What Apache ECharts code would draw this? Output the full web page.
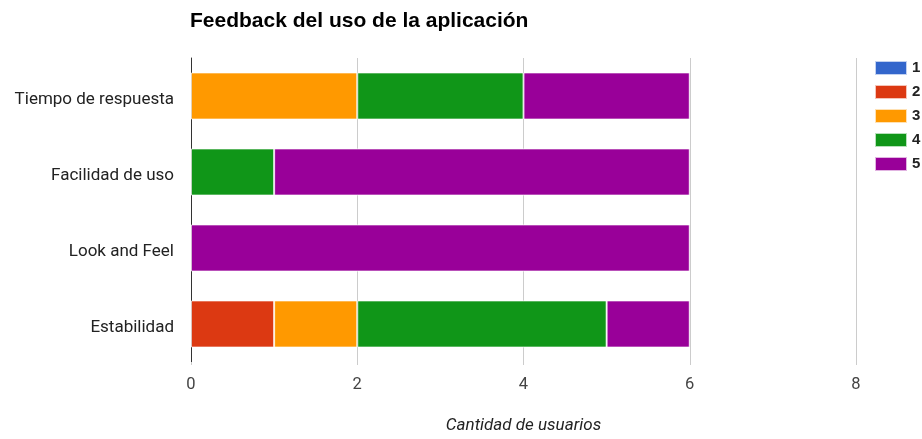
<!DOCTYPE html>
<html>
<head>
<meta charset="utf-8">
<script src="https://cdn.jsdelivr.net/npm/echarts@6/dist/echarts.min.js"></script>
<style>
html,body{margin:0;padding:0;background:#fff;}
#chart{width:922px;height:439px;}
</style>
</head>
<body>
<div id="chart"></div>
<script>
// Survey results: number of users giving each rating (1-5) per aspect
const categories = ['Tiempo de respuesta', 'Facilidad de uso', 'Look and Feel', 'Estabilidad'];
const seriesNames = ['1', '2', '3', '4', '5'];
const rating1 = [0, 0, 0, 0];
const rating2 = [0, 0, 0, 1];
const rating3 = [2, 0, 0, 1];
const rating4 = [2, 1, 0, 3];
const rating5 = [2, 5, 6, 1];
const xTicks = [0, 2, 4, 6, 8];
const colors = ['#3366cc', '#dc3912', '#ff9900', '#109618', '#990099'];

const values = [rating1, rating2, rating3, rating4, rating5];

const chart = echarts.init(document.getElementById('chart'), null, {renderer: 'canvas'});
chart.setOption({
  animation: false,
  color: colors,
  title: {
    text: 'Feedback del uso de la aplicación',
    left: 185,
    top: 6,
    textStyle: {fontFamily: 'Liberation Sans, Arial', fontSize: 21, fontWeight: 'bold', color: '#000'}
  },
  legend: {
    orient: 'vertical',
    left: 869,
    top: 55,
    itemWidth: 32,
    itemHeight: 14,
    itemGap: 8,
    icon: 'rect',
    data: seriesNames,
    textStyle: {fontFamily: 'Liberation Sans, Arial', fontSize: 15, fontWeight: 'bold', color: '#222'}
  },
  grid: {left: 191, right: 66, top: 58, bottom: 77, containLabel: false},
  xAxis: {
    type: 'value',
    min: xTicks[0],
    max: xTicks[xTicks.length - 1],
    interval: 2,
    name: 'Cantidad de usuarios',
    nameLocation: 'middle',
    nameGap: 55,
    nameTextStyle: {fontFamily: 'Roboto, Arial', fontSize: 17, fontStyle: 'italic', color: '#222'},
    axisLine: {show: false},
    axisTick: {show: true, length: 3, lineStyle: {color: '#ccc'}},
    axisLabel: {fontFamily: 'Roboto, Arial', fontSize: 16.5, color: '#444', margin: 14},
    splitLine: {show: true, lineStyle: {color: '#ccc', width: 1}}
  },
  yAxis: {
    type: 'category',
    data: categories,
    inverse: true,
    axisLine: {show: true, lineStyle: {color: '#333', width: 1}},
    axisTick: {show: false},
    axisLabel: {
      margin: 17,
      formatter: v => '{t|' + v + '}',
      rich: {t: {fontFamily: 'Roboto, Arial', fontSize: 17, color: '#222', padding: [8, 0, 0, 0]}}
    },
    splitLine: {show: false}
  },
  series: seriesNames.map((name, i) => ({
    name: name,
    type: 'bar',
    stack: 'total',
    barCategoryGap: '38%',
    data: values[i].map(v => (v === 0 ? '-' : v)),
    itemStyle: {color: colors[i], borderColor: 'rgba(255,255,255,0.7)', borderWidth: 1}
  }))
});
</script>
</body>
</html>
